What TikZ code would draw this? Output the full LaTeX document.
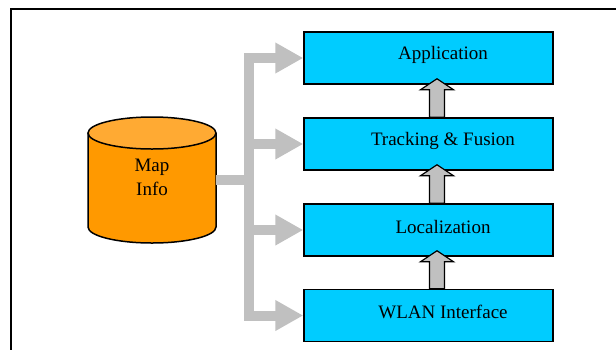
\documentclass[tikz,border=0pt]{standalone}
\usepackage{fontspec}
\setmainfont{Liberation Serif}
\usetikzlibrary{arrows.meta, calc}
\definecolor{layercyan}{HTML}{00CCFF}
\definecolor{feedgray}{HTML}{C0C0C0}
\definecolor{mapbody}{HTML}{FF9900}
\definecolor{maptop}{HTML}{FFAA33}

\begin{document}
\begin{tikzpicture}[x=1pt, y=-1pt, font=\fontsize{19}{24}\selectfont,
  layer/.style={draw=black, line width=1.5pt, fill=layercyan, minimum width=249pt, minimum height=52pt, inner sep=0pt},
  feed/.style={draw=feedgray, line width=10pt, -{Triangle[length=28pt, width=29pt]}},
  uparrow/.style={draw=black, line width=1.2pt, fill=feedgray}]
\useasboundingbox (0,0) rectangle (616,349);
\clip (0,0) rectangle (616,349);
\draw [line width=2pt] (11,9) rectangle (660,400);
\foreach \n/\y in {app/58, trk/144, loc/230, wlan/315.5}
\node [layer] (\n) at (428.5,\y) {};
\foreach \n/\t in {app/Application, trk/Tracking \& Fusion, loc/Localization, wlan/WLAN Interface}
\node (\n-t) at ([shift={(14.5,-3.5)}]\n.center) {\t};
\foreach \a/\b in {wlan/loc, loc/trk, trk/app}
\draw [uparrow] let \p1=($(\a.north)+(8.5,0)$), \p2=($(\b.south)+(8.5,-6)$) in
  (\x1-7.5pt,\y1) -- (\x1-7.5pt,\y2-11pt) -- (\x1-16.5pt,\y2-11pt) -- (\x1,\y2)
  -- (\x1+16.5pt,\y2-11pt) -- (\x1+7.5pt,\y2-11pt) -- (\x1+7.5pt,\y1) -- cycle;
\filldraw [fill=mapbody, line width=1.5pt] (88,133) -- (88,227) arc[start angle=180, end angle=0, x radius=64, y radius=16] -- (216,133);
\filldraw [fill=maptop, line width=1.5pt] (152,133) ellipse[x radius=64, y radius=16];
\node [align=center] (map) at (152,177) {Map\\Info};
\coordinate (dbR) at (216,180);
\coordinate (hub) at (248.5,180);
\draw [feedgray, line width=10pt] (dbR) -- (hub);
\foreach \n in {app, trk, loc, wlan}
\draw [feed] (hub) |- (\n.west);
\end{tikzpicture}
\end{document}
